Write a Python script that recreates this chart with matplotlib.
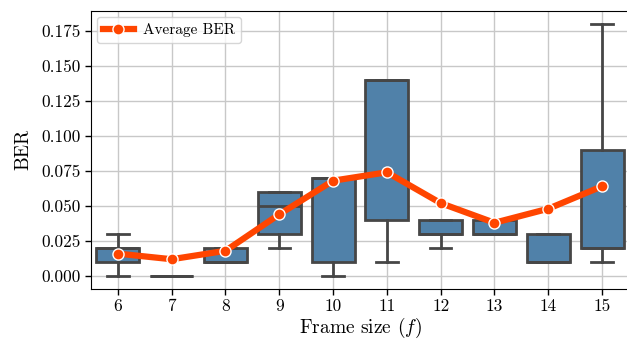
import matplotlib
matplotlib.use("Agg")
import matplotlib.pyplot as plt

plt.rcParams["font.family"] = "serif"
plt.rcParams["font.serif"] = ["cmr10"]
plt.rcParams["mathtext.fontset"] = "cm"
plt.rcParams["axes.unicode_minus"] = False
plt.rcParams["axes.formatter.use_mathtext"] = True

# BER per frame size
frame_sizes = [6, 7, 8, 9, 10, 11, 12, 13, 14, 15]
whisker_low = [0.00, 0.00, 0.01, 0.02, 0.00, 0.01, 0.02, 0.03, 0.01, 0.01]
q1 = [0.01, 0.00, 0.01, 0.03, 0.01, 0.04, 0.03, 0.03, 0.01, 0.02]
median = [0.02, 0.00, 0.01, 0.05, 0.07, 0.14, 0.03, 0.03, 0.01, 0.02]
q3 = [0.02, 0.00, 0.02, 0.06, 0.07, 0.14, 0.04, 0.04, 0.03, 0.09]
whisker_high = [0.03, 0.00, 0.02, 0.06, 0.07, 0.14, 0.04, 0.04, 0.03, 0.18]
avg_ber = [0.016, 0.012, 0.018, 0.044, 0.068, 0.074, 0.052, 0.038, 0.048, 0.064]

stats = []
for i, f in enumerate(frame_sizes):
    stats.append({
        "label": str(f),
        "whislo": whisker_low[i],
        "q1": q1[i],
        "med": median[i],
        "q3": q3[i],
        "whishi": whisker_high[i],
        "fliers": [],
    })

fig = plt.figure(figsize=(6.27, 3.39), dpi=100)
ax = fig.add_axes([0.1451, 0.1484, 0.858, 0.8192])

edge = "#464646"
pos = list(range(len(frame_sizes)))
ax.bxp(stats, positions=pos, widths=0.8, patch_artist=True, showfliers=False,
       boxprops=dict(facecolor="#5081a9", edgecolor=edge, linewidth=2.0),
       medianprops=dict(color=edge, linewidth=2.0),
       whiskerprops=dict(color=edge, linewidth=2.0),
       capprops=dict(color=edge, linewidth=2.0),
       capwidths=0.4, zorder=2)

ax.plot(pos, avg_ber, color="#ff4500", linewidth=4.5, marker="o",
        markersize=8, markerfacecolor="#ff4500", markeredgecolor="white",
        markeredgewidth=1.0, label="Average BER", zorder=3)

ax.set_xlim(-0.5, 9.5)
ax.set_ylim(-0.009, 0.189)
ax.set_xticks(pos)
ax.set_xticklabels([str(f) for f in frame_sizes])
ax.set_yticks([0.0, 0.025, 0.05, 0.075, 0.1, 0.125, 0.15, 0.175])
ax.set_yticklabels(["0.000", "0.025", "0.050", "0.075", "0.100", "0.125", "0.150", "0.175"])
ax.tick_params(labelsize=12.5, length=4, width=1)

ax.grid(True, color="#c8c8c8", linewidth=1.0)
ax.set_axisbelow(True)
ax.spines["right"].set_visible(False)

ax.set_xlabel(r"Frame size ($f$)", fontsize=14, labelpad=1)
ax.set_ylabel("BER", fontsize=14, labelpad=6)

ax.legend(loc="upper left", fontsize=11, handlelength=2.0, handletextpad=0.6,
          borderpad=0.4, borderaxespad=0.4)

fig.savefig("out.png", dpi=100)
